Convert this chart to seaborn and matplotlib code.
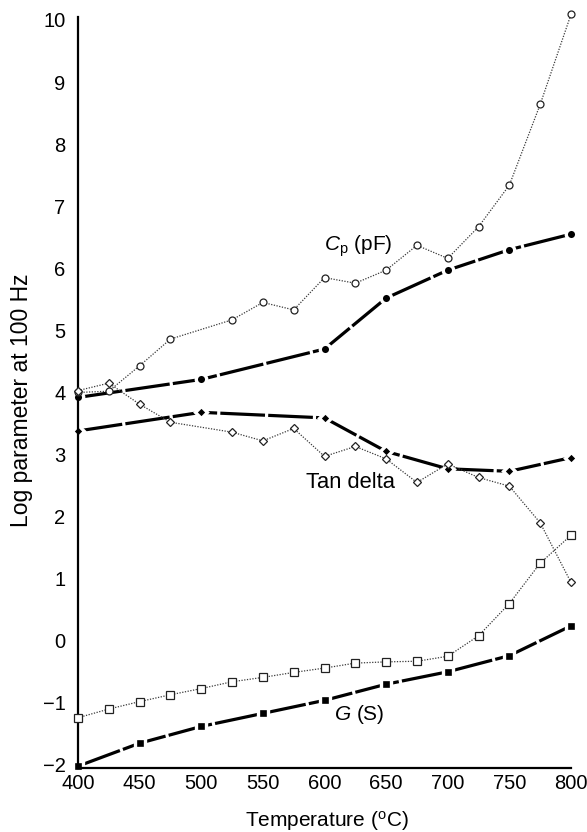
import matplotlib
matplotlib.use("Agg")
import matplotlib.pyplot as plt
import seaborn as sns
import pandas as pd

# ---------------- data ----------------
temp_all = [400, 425, 450, 475, 500, 525, 550, 575, 600, 625, 650, 675, 700, 725, 750, 775, 800]
temp_open = [400, 425, 450, 475, 525, 550, 575, 600, 625, 650, 675, 700, 725, 750, 775, 800]
temp_filled = [400, 500, 600, 650, 700, 750, 800]
temp_g_filled = [400, 450, 500, 550, 600, 650, 700, 750, 800]

cp_open = [4.00, 4.02, 4.43, 4.86, 5.17, 5.45, 5.33, 5.85, 5.76, 5.97, 6.37, 6.16, 6.67, 7.34, 8.64, 10.09]
cp_filled = [3.92, 4.21, 4.70, 5.52, 5.97, 6.30, 6.55]

tan_open = [4.03, 4.15, 3.81, 3.52, 3.36, 3.22, 3.42, 2.97, 3.13, 2.93, 2.55, 2.85, 2.63, 2.49, 1.90, 0.94]
tan_filled = [3.38, 3.68, 3.59, 3.05, 2.77, 2.73, 2.95]

g_open = [-1.24, -1.10, -0.98, -0.87, -0.77, -0.66, -0.59, -0.51, -0.44, -0.36, -0.34, -0.33, -0.25, 0.08, 0.60, 1.25, 1.70]
g_filled = [-2.02, -1.65, -1.38, -1.17, -0.96, -0.70, -0.50, -0.24, 0.24]

x_ticks = [400, 450, 500, 550, 600, 650, 700, 750, 800]
y_ticks = [-2, -1, 0, 1, 2, 3, 4, 5, 6, 7, 8, 9, 10]

# ---------------- style ----------------
sns.set_theme(style="white")
plt.rcParams["font.family"] = ["Liberation Sans", "DejaVu Sans"]
plt.rcParams["mathtext.fontset"] = "custom"
plt.rcParams["mathtext.rm"] = "Liberation Sans"
plt.rcParams["mathtext.it"] = "Liberation Sans:italic"
plt.rcParams["text.color"] = "black"
plt.rcParams["axes.labelcolor"] = "black"

fig = plt.figure(figsize=(5.87, 8.32), dpi=100)
ax = fig.add_axes([78 / 587, 0.0769, (571 - 78) / 587, 0.9028])

FS = 15

# filled series: thick black lines broken around markers (white halo)
filled_series = [
    (temp_filled, cp_filled, "o", 7.5),
    (temp_filled, tan_filled, "D", 6.2),
    (temp_g_filled, g_filled, "s", 7.0),
]
for xs, ys, mk, ms in filled_series:
    df = pd.DataFrame({"T": xs, "v": ys})
    sns.lineplot(data=df, x="T", y="v", ax=ax, color="black", lw=2.3,
                 linestyle=(0, (14, 1.0)),
                 marker=mk, markersize=ms, markerfacecolor="black",
                 markeredgecolor="white", markeredgewidth=2.4, zorder=3,
                 clip_on=False)

# open series: thin dotted lines with open markers
open_series = [
    (temp_open, cp_open, "o", 5.0),
    (temp_open, tan_open, "D", 4.2),
    (temp_all, g_open, "s", 5.2),
]
for xs, ys, mk, ms in open_series:
    df = pd.DataFrame({"T": xs, "v": ys})
    sns.lineplot(data=df, x="T", y="v", ax=ax, color="#3a3a3a", lw=0.9,
                 linestyle=(0, (1, 1.2)),
                 marker=mk, markersize=ms, markerfacecolor="white",
                 markeredgecolor="#222222", markeredgewidth=0.9, zorder=4,
                 clip_on=False)

# ---------------- axes ----------------
ax.set_xlim(400, 800)
ax.set_ylim(-2.05, 10.05)
ax.set_xticks(x_ticks)
ax.set_yticks(y_ticks)
ax.set_yticklabels([str(v).replace("-", "\u2212") for v in y_ticks])
ax.tick_params(axis="both", direction="in", length=7, width=1.4,
               labelsize=14.5, colors="black")
ax.tick_params(axis="x", pad=4)
ax.tick_params(axis="y", pad=9)
for s in ["top", "right"]:
    ax.spines[s].set_visible(False)
for s in ["left", "bottom"]:
    ax.spines[s].set_color("black")
    ax.spines[s].set_linewidth(1.6)
    ax.spines[s].set_zorder(3.5)
ax.set_xlabel("Temperature ($^{\\rm o}$C)", fontsize=FS, color="black")
ax.set_ylabel("Log parameter at 100 Hz", fontsize=16.5, color="black")
ax.xaxis.set_label_coords(0.504, -0.054)
ax.yaxis.set_label_coords(-0.091, 0.49)
ax.grid(False)

# ---------------- series labels ----------------
ax.text(600, 6.36, "$C_{\\rm p}$ (pF)", fontsize=FS, ha="left", va="center", color="black")
ax.text(585, 2.55, "Tan delta", fontsize=15.8, ha="left", va="center", color="black")
ax.text(608, -1.19, "$G$ (S)", fontsize=FS, ha="left", va="center", color="black")

fig.savefig("out.png", dpi=100, facecolor="white")
